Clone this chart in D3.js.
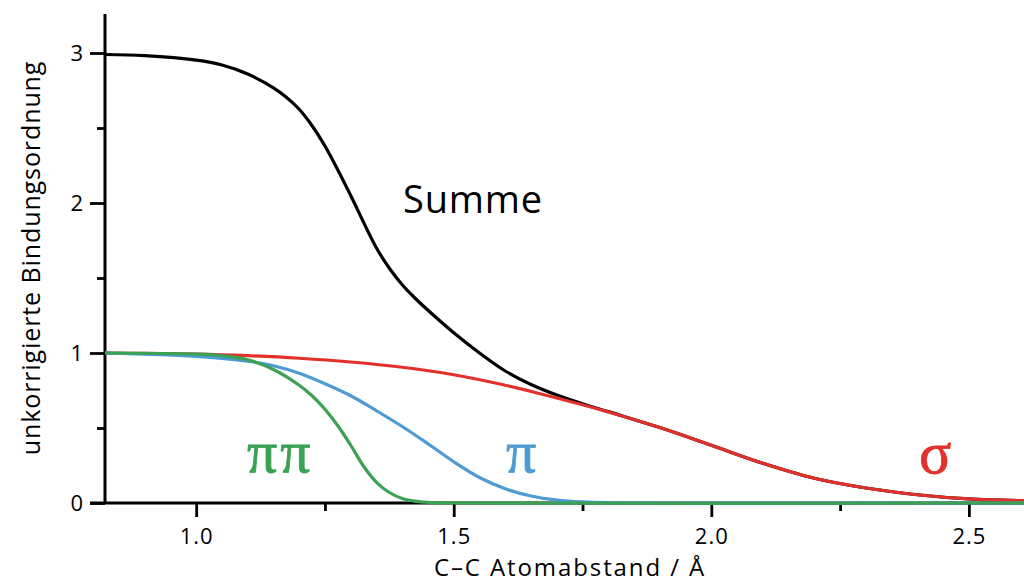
<!DOCTYPE html>
<html>
<head>
<meta charset="utf-8">
<script src="https://cdn.jsdelivr.net/npm/d3@7"></script>
<style>
  html, body { margin: 0; padding: 0; background: #fff; }
  svg { display: block; }
</style>
</head>
<body>
<svg id="chart" width="1024" height="583"></svg>
<script>
// C–C distance (Å) and uncorrected bond order for each contribution
const sigmaDist = [0.823, 0.9, 1.0, 1.1, 1.2, 1.3, 1.4, 1.5, 1.6, 1.7, 1.8, 1.9, 2.0, 2.1, 2.2, 2.3, 2.4, 2.5, 2.607];
const sigmaBO   = [1.0, 0.997, 0.993, 0.982, 0.965, 0.94, 0.905, 0.855, 0.785, 0.70, 0.607, 0.503, 0.385, 0.265, 0.165, 0.1, 0.055, 0.027, 0.015];

const piDist = [0.823, 0.9, 1.0, 1.1, 1.15, 1.2, 1.25, 1.3, 1.35, 1.4, 1.45, 1.5, 1.55, 1.6, 1.65, 1.7, 1.75, 1.8, 1.9, 2.607];
const piBO   = [1.0, 0.993, 0.978, 0.945, 0.915, 0.865, 0.795, 0.715, 0.615, 0.51, 0.395, 0.275, 0.17, 0.095, 0.047, 0.02, 0.007, 0.002, 0.0, 0.0];

const pipiDist = [0.823, 1.0, 1.05, 1.1, 1.15, 1.2, 1.225, 1.25, 1.275, 1.3, 1.325, 1.35, 1.375, 1.4, 1.425, 1.45, 1.5, 2.607];
const pipiBO   = [1.0, 0.993, 0.983, 0.955, 0.89, 0.785, 0.715, 0.625, 0.515, 0.385, 0.245, 0.138, 0.07, 0.03, 0.012, 0.004, 0.0, 0.0];

const sumDist = [0.823, 0.9, 1.0, 1.05, 1.1, 1.15, 1.175, 1.2, 1.225, 1.25, 1.275, 1.3, 1.35, 1.375, 1.4, 1.425, 1.45, 1.5, 1.55, 1.6, 1.65, 1.7, 1.75, 1.8, 1.9, 2.0, 2.1, 2.2, 2.3, 2.4, 2.5, 2.607];
const sumBO   = [2.99, 2.982, 2.952, 2.92, 2.86, 2.768, 2.705, 2.625, 2.515, 2.38, 2.22, 2.05, 1.70, 1.565, 1.455, 1.365, 1.285, 1.135, 1.0, 0.88, 0.79, 0.72, 0.662, 0.609, 0.503, 0.385, 0.265, 0.165, 0.1, 0.055, 0.027, 0.015];

const xMajorTicks = [1.0, 1.5, 2.0, 2.5];
const xMinorTicks = [1.25, 1.75, 2.25];
const yMajorTicks = [0, 1, 2, 3];
const yMinorTicks = [0.5, 1.5, 2.5];

const xDomain = [0.823, 2.607];
const yDomain = [0, 3.26];

const textFont = "'Open Sans', Lato, sans-serif";
const greekFont = "'Liberation Serif', 'DejaVu Serif', serif";

const svg = d3.select("#chart");
const plot = { left: 105, right: 1024, top: 14, bottom: 503 };

const x = d3.scaleLinear().domain(xDomain).range([plot.left, plot.right]);
const y = d3.scaleLinear().domain(yDomain).range([plot.bottom, plot.top]);

// axes
function styleAxis(g) {
  g.selectAll("path.domain").remove();
  g.selectAll(".tick line").attr("stroke", "#000").attr("stroke-width", 2.8);
  g.selectAll(".tick text")
    .style("font-family", textFont)
    .style("font-size", "22px")
    .style("letter-spacing", "1px")
    .attr("fill", "#000");
}

svg.append("g")
  .attr("transform", `translate(0,${plot.bottom})`)
  .call(d3.axisBottom(x).tickValues(xMinorTicks).tickSize(8).tickFormat(""))
  .call(styleAxis);

svg.append("g")
  .attr("transform", `translate(0,${plot.bottom})`)
  .call(d3.axisBottom(x).tickValues(xMajorTicks).tickSize(14).tickPadding(11).tickFormat(d3.format(".1f")))
  .call(styleAxis);

svg.append("g")
  .attr("transform", `translate(${plot.left},0)`)
  .call(d3.axisLeft(y).tickValues(yMinorTicks).tickSize(8).tickFormat(""))
  .call(styleAxis);

svg.append("g")
  .attr("transform", `translate(${plot.left},0)`)
  .call(d3.axisLeft(y).tickValues(yMajorTicks).tickSize(15).tickPadding(6).tickFormat(d3.format("d")))
  .call(styleAxis);

// axis lines
svg.append("line")
  .attr("x1", plot.left).attr("x2", plot.left)
  .attr("y1", plot.top).attr("y2", plot.bottom)
  .attr("stroke", "#000").attr("stroke-width", 3);
svg.append("line")
  .attr("x1", plot.left - 15).attr("x2", plot.right)
  .attr("y1", plot.bottom).attr("y2", plot.bottom)
  .attr("stroke", "#000").attr("stroke-width", 3);

// curves
const line = d3.line()
  .x(d => x(d[0]))
  .y(d => y(d[1]))
  .curve(d3.curveCatmullRom.alpha(0.5));

const series = [
  { dist: sumDist,   bo: sumBO,   color: "#000000" },
  { dist: sigmaDist, bo: sigmaBO, color: "#e2302b" },
  { dist: piDist,    bo: piBO,    color: "#4d9bd2" },
  { dist: pipiDist,  bo: pipiBO,  color: "#3ba153" }
];

series.forEach(s => {
  svg.append("path")
    .datum(d3.zip(s.dist, s.bo))
    .attr("fill", "none")
    .attr("stroke", s.color)
    .attr("stroke-width", 3.2)
    .attr("stroke-linejoin", "round")
    .attr("d", line);
});

// curve labels
svg.append("text")
  .attr("x", 403).attr("y", 213)
  .style("font-family", textFont).style("font-size", "38px")
  .style("letter-spacing", "0.8px")
  .attr("fill", "#000")
  .text("Summe");

const greekLabels = [
  { text: "ππ", x: 247, y: 472, color: "#3ba153" },
  { text: "π",  x: 506, y: 472, color: "#4d9bd2" },
  { text: "σ",  x: 919, y: 473, color: "#e2302b" }
];
greekLabels.forEach(l => {
  svg.append("text")
    .attr("x", l.x).attr("y", l.y)
    .style("font-family", greekFont).style("font-size", "60px")
    .style("letter-spacing", "3px")
    .attr("fill", l.color)
    .attr("stroke", l.color).attr("stroke-width", 0.8)
    .text(l.text);
});

// axis titles
svg.append("text")
  .attr("x", 570).attr("y", 576)
  .attr("text-anchor", "middle")
  .style("font-family", textFont).style("font-size", "24px")
  .style("letter-spacing", "1.9px")
  .attr("fill", "#000")
  .text("C–C Atomabstand / Å");

svg.append("text")
  .attr("transform", "translate(40,258) rotate(-90)")
  .attr("text-anchor", "middle")
  .style("font-family", textFont).style("font-size", "25px")
  .style("letter-spacing", "0.9px")
  .attr("fill", "#000")
  .text("unkorrigierte Bindungsordnung");
</script>
</body>
</html>
